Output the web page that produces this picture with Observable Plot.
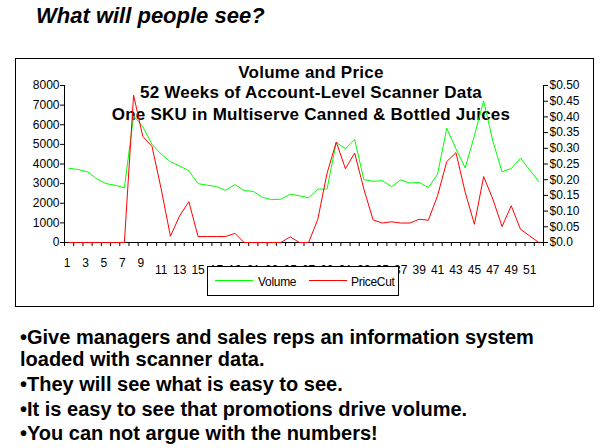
<!DOCTYPE html>
<html><head><meta charset="utf-8">
<script src="https://cdn.jsdelivr.net/npm/d3@7"></script>
<script src="https://cdn.jsdelivr.net/npm/@observablehq/plot@0.6"></script>
<style>
body{margin:0;background:#fff;width:607px;height:448px;overflow:hidden;position:relative;font-family:"Liberation Sans",Arial,sans-serif;color:#000;}
.abs{position:absolute;white-space:nowrap;line-height:1;}
#title{left:36px;top:5px;font-size:22px;font-weight:bold;font-style:italic;}
#box{left:15px;top:58px;width:577px;height:247px;border:1px solid #000;}
.ct{left:61px;width:500px;text-align:center;font-size:17px;font-weight:bold;letter-spacing:0.25px;}
#chart{left:16px;top:59px;}
#legend{left:207px;top:266px;width:190px;height:28px;border:1px solid #000;background:#fff;}
.lg{position:absolute;height:0;border-top:1px solid;width:38px;top:13px;}
.lt{position:absolute;top:9px;font-size:12px;line-height:1;letter-spacing:-0.3px;}
.bl{left:20px;font-size:20px;font-weight:bold;}
</style></head><body>
<div id="title" class="abs">What will people see?</div>
<div id="box" class="abs"></div>
<div class="abs ct" style="top:64.2px">Volume and Price</div>
<div class="abs ct" style="top:84.2px">52 Weeks of Account-Level Scanner Data</div>
<div class="abs ct" style="top:105.7px">One SKU in Multiserve Canned &amp; Bottled Juices</div>
<div id="chart" class="abs"></div>
<div id="legend" class="abs">
  <div class="lg" style="left:7px;border-color:#00ff00"></div>
  <div class="lt" style="left:50px">Volume</div>
  <div class="lg" style="left:101px;border-color:#ff0000"></div>
  <div class="lt" style="left:143px">PriceCut</div>
</div>
<div class="abs bl" style="top:326.5px">•Give managers and sales reps an information system</div>
<div class="abs bl" style="top:348.5px">loaded with scanner data.</div>
<div class="abs bl" style="top:373.5px">•They will see what is easy to see.</div>
<div class="abs bl" style="top:398.5px">•It is easy to see that promotions drive volume.</div>
<div class="abs bl" style="top:422.5px">•You can not argue with the numbers!</div>
<script>
const weeks = [1,2,3,4,5,6,7,8,9,10,11,12,13,14,15,16,17,18,19,20,21,22,23,24,25,26,27,28,29,30,31,32,33,34,35,36,37,38,39,40,41,42,43,44,45,46,47,48,49,50,51,52];
const volume = [3780,3720,3600,3250,3000,2920,2780,6450,5900,5000,4500,4120,3900,3650,3000,2920,2850,2660,2950,2650,2600,2300,2180,2210,2460,2380,2280,2720,2720,5100,4770,5250,3200,3120,3150,2850,3190,3030,3060,2800,3480,5820,4770,3800,5450,7220,5180,3600,3770,4300,3700,3100];
const priceCut = [0,0,0,0,0,0,0,0.469,0.338,0.306,0.17,0.02,0.085,0.13,0.019,0.019,0.019,0.019,0.029,0,0,0,0,0,0.018,0,0,0.074,0.22,0.32,0.235,0.285,0.17,0.072,0.062,0.066,0.062,0.062,0.074,0.071,0.149,0.258,0.286,0.16,0.058,0.21,0.138,0.051,0.117,0.042,0.021,0];
const volTicks = [0,1000,2000,3000,4000,5000,6000,7000,8000];
const priceTicks = [0,0.05,0.10,0.15,0.20,0.25,0.30,0.35,0.40,0.45,0.50];
const weekLabels = [1,3,5,7,9,11,13,15,17,19,21,23,25,27,29,31,33,35,37,39,41,43,45,47,49,51];
const ratio = 16000; // $0.50 on the right axis lines up with 8000 on the left
const xDomain = [0.5, 52.5];
const boundaries = weeks.map(w => w - 0.5).concat([52.5]);
const data = weeks.map((w, i) => ({week: w, volume: volume[i], price: priceCut[i]}));

const chart = Plot.plot({
  width: 577, height: 247,
  marginLeft: 48, marginRight: 50, marginTop: 26, marginBottom: 64,
  style: {background: "transparent", fontFamily: '"Liberation Sans",Arial,sans-serif', fontSize: "12px", color: "#000", overflow: "visible"},
  x: {domain: xDomain, axis: null},
  y: {domain: [0, 8000], axis: null},
  marks: [
    Plot.axisX({ticks: boundaries, tickSize: 4, label: null, tickFormat: () => ""}),
    Plot.axisX({ticks: weekLabels.filter(w => w < 10), tickSize: 0, tickPadding: 16, dx: -2, label: null, tickFormat: d => String(d)}),
    Plot.axisX({ticks: weekLabels.filter(w => w >= 10), tickSize: 0, tickPadding: 23, label: null, tickFormat: d => String(d)}),
    Plot.axisY({anchor: "left", ticks: volTicks, tickSize: 4, tickPadding: 1, label: null, tickFormat: d => String(d)}),
    Plot.axisY({anchor: "right", ticks: priceTicks.map(p => p * ratio), tickSize: 4, tickPadding: 2, label: null,
      tickFormat: v => { const p = v / ratio; return p === 0 ? "$0.0" : "$" + p.toFixed(2); }}),
    Plot.ruleY([0], {stroke: "#000"}),
    Plot.ruleX(xDomain, {stroke: "#000"}),
    Plot.lineY(data, {x: "week", y: "volume", stroke: "#00ff00", strokeWidth: 1}),
    Plot.lineY(data, {x: "week", y: d => d.price * ratio, stroke: "#ff0000", strokeWidth: 1})
  ]
});
document.getElementById("chart").appendChild(chart);
</script>
</body></html>
